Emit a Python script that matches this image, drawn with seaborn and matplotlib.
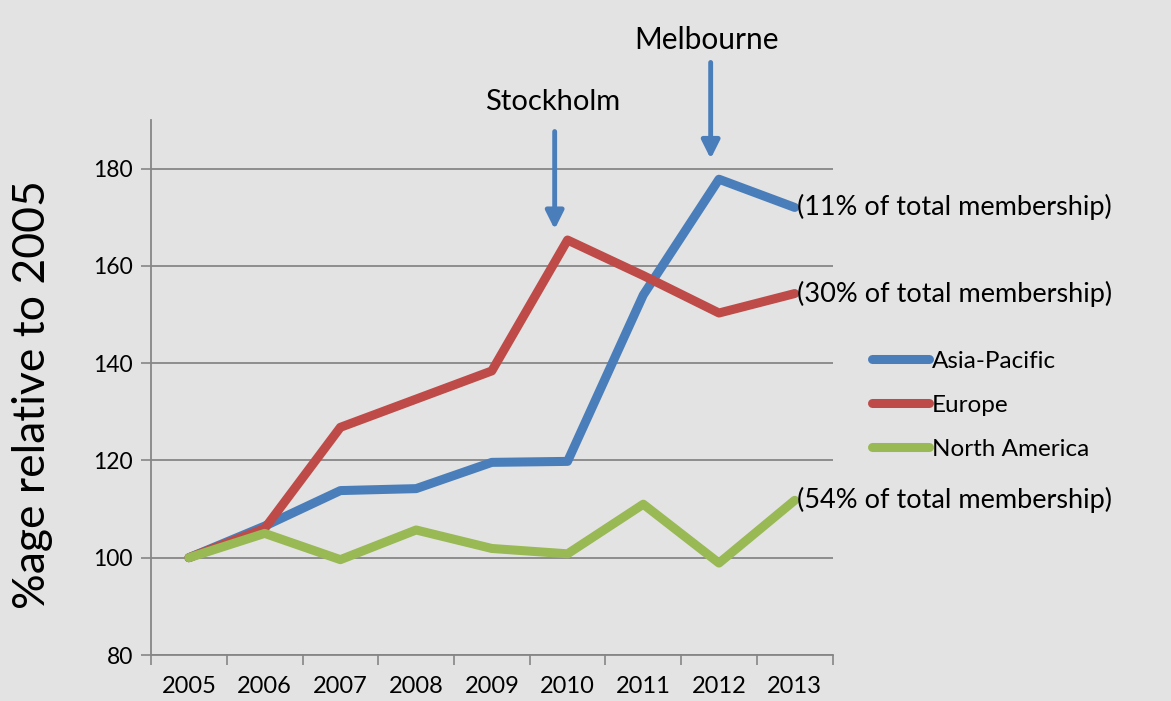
import numpy as np
import pandas as pd
import seaborn as sns
import matplotlib.pyplot as plt

# Data
YEARS = [2005, 2006, 2007, 2008, 2009, 2010, 2011, 2012, 2013]
ASIA_PACIFIC = [100, 106.5, 113.8, 114.2, 119.6, 119.8, 154, 177.8, 172]
EUROPE = [100, 106, 126.8, 132.6, 138.4, 165.3, 158, 150.3, 154.3]
NORTH_AMERICA = [100, 105, 99.6, 105.7, 101.9, 100.8, 111, 98.9, 111.8]
REGIONS = ["Asia-Pacific", "Europe", "North America"]
SHARES = ["(11% of total membership)", "(30% of total membership)",
          "(54% of total membership)"]
COLORS = ["#4a7ebb", "#be4b48", "#98b954"]

BG = "#e3e3e3"
FONT = ["Lato", "DejaVu Sans"]

sns.set_theme(style="white")
plt.rcParams["font.family"] = FONT
plt.rcParams["text.color"] = "black"
plt.rcParams["axes.labelcolor"] = "black"

df = pd.DataFrame({
    "year": YEARS * 3,
    "value": ASIA_PACIFIC + EUROPE + NORTH_AMERICA,
    "region": np.repeat(REGIONS, len(YEARS)),
})

fig = plt.figure(figsize=(11.71, 7.01), dpi=100, facecolor=BG)
ax = fig.add_axes([0.129, 0.0656, 0.582, 0.7634])
ax.set_facecolor(BG)

sns.lineplot(
    data=df, x="year", y="value", hue="region",
    palette=COLORS, linewidth=6.5, ax=ax, legend=False,
    solid_capstyle="round", solid_joinstyle="round", zorder=3,
)

ax.set_xlim(2004.5, 2013.5)
ax.set_ylim(80, 190)
ax.set_yticks(range(80, 181, 20))
ax.set_xticks(YEARS)
ax.set_xticks(np.arange(2004.5, 2014, 1), minor=True)
ax.tick_params(axis="x", which="major", length=0, labelsize=17, pad=15,
               labelcolor="black")
ax.tick_params(axis="x", which="minor", length=7, width=1.2, color="#868686",
               direction="out", bottom=True)
ax.tick_params(axis="y", length=7, width=1.2, color="#868686", direction="out",
               left=True, labelsize=16.5, pad=6, labelcolor="black")
ax.yaxis.grid(True, color="#868686", linewidth=1.3)
ax.set_axisbelow(True)

for side in ["top", "right"]:
    ax.spines[side].set_visible(False)
for side in ["left", "bottom"]:
    ax.spines[side].set_color("#868686")
    ax.spines[side].set_linewidth(1.3)

ax.set_xlabel("")
ax.set_ylabel("%age relative to 2005", fontsize=32)
ax.yaxis.set_label_coords(-0.144, 0.486)

# share labels at the line ends
for series, text in zip([ASIA_PACIFIC, EUROPE, NORTH_AMERICA], SHARES):
    ax.annotate(text, xy=(YEARS[-1], series[-1]), xytext=(2, 0),
                textcoords="offset points", ha="left", va="center",
                fontsize=19.5, annotation_clip=False)

# conference arrows
arrow = dict(arrowstyle="-|>,head_length=0.9,head_width=0.45",
             color="#4a7ebb", lw=3.5, shrinkA=0, shrinkB=0)
ax.annotate("", xy=(2009.83, 167.5), xytext=(2009.83, 187.6),
            arrowprops=arrow, annotation_clip=False)
ax.annotate("", xy=(2011.89, 182), xytext=(2011.89, 201.8),
            arrowprops=arrow, annotation_clip=False)
ax.text(2009.8, 193.6, "Stockholm", ha="center", va="center", fontsize=21)
ax.text(2011.83, 206.5, "Melbourne", ha="center", va="center", fontsize=21.5)

handles = [plt.Line2D([], [], color=c, linewidth=6.5, solid_capstyle="round")
           for c in COLORS]
fig.legend(handles, REGIONS, loc="center left", bbox_to_anchor=(0.7447, 0.422),
           frameon=False, fontsize=17.5, handlelength=2.36, handletextpad=0.1,
           labelspacing=0.95, borderpad=0, borderaxespad=0)

fig.savefig("out.png", dpi=100, facecolor=BG)
